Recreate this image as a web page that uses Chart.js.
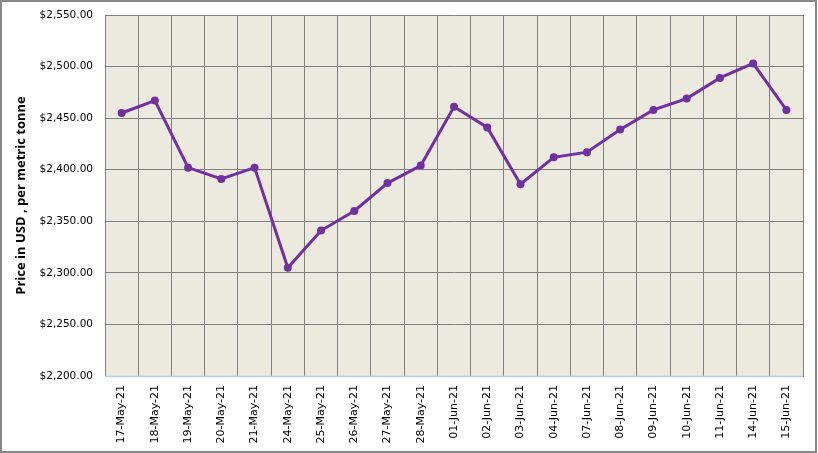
<!DOCTYPE html>
<html>
<head>
<meta charset="utf-8">
<script src="https://cdn.jsdelivr.net/npm/chart.js@4"></script>
<style>
  html, body { margin: 0; padding: 0; background: #fff; }
  #wrap { width: 818px; height: 453px; position: relative; }
</style>
</head>
<body>
<div id="wrap"><canvas id="priceChart" width="818" height="453"></canvas></div>
<script>
// --- Data ---
const dates = [
    '17-May-21', '18-May-21', '19-May-21', '20-May-21', '21-May-21', '24-May-21',
    '25-May-21', '26-May-21', '27-May-21', '28-May-21', '01-Jun-21', '02-Jun-21',
    '03-Jun-21', '04-Jun-21', '07-Jun-21', '08-Jun-21', '09-Jun-21', '10-Jun-21',
    '11-Jun-21', '14-Jun-21', '15-Jun-21'
];
const prices = [
    2455, 2467, 2402, 2391, 2402, 2305,
    2341, 2360, 2387, 2404, 2461, 2441,
    2386, 2412, 2417, 2439, 2458, 2469,
    2489, 2503, 2458
];
const yTicks = [2200, 2250, 2300, 2350, 2400, 2450, 2500, 2550];

// --- Plot background + outer frame ---
const frame = {
    id: 'frame',
    beforeDraw(chart) {
        const { ctx, chartArea: a } = chart;
        ctx.save();
        ctx.fillStyle = '#fff';
        ctx.fillRect(0, 0, chart.width, chart.height);
        ctx.fillStyle = '#ECEADF';
        ctx.fillRect(a.left, a.top, a.right - a.left, a.bottom - a.top);
        ctx.strokeStyle = '#888';
        ctx.lineWidth = 2;
        ctx.strokeRect(1, 1, 815, 451);
        ctx.restore();
    },
    afterDatasetsDraw(chart) {
        // light blue category axis line along the bottom
        const { ctx, chartArea: a } = chart;
        ctx.save();
        ctx.strokeStyle = '#B9CDE5';
        ctx.lineWidth = 1.5;
        ctx.beginPath();
        ctx.moveTo(a.left, a.bottom + 0.5);
        ctx.lineTo(a.right, a.bottom + 0.5);
        ctx.stroke();
        ctx.restore();
    }
};

const tickFont = { family: 'DejaVu Sans', size: 10.5 };

new Chart(document.getElementById('priceChart'), {
    type: 'line',
    data: {
        labels: dates,
        datasets: [{
            data: prices,
            borderColor: '#7030A0',
            backgroundColor: '#7030A0',
            borderWidth: 3,
            pointRadius: 4,
            pointBackgroundColor: '#7030A0',
            pointBorderWidth: 0,
            tension: 0
        }]
    },
    options: {
        responsive: false,
        animation: false,
        layout: { padding: { left: 0, right: 15, top: 15, bottom: 0 } },
        plugins: {
            legend: { display: false },
            tooltip: { enabled: false }
        },
        scales: {
            x: {
                offset: true,
                grid: { offset: true, color: '#808080', lineWidth: 1, drawTicks: false },
                border: { color: '#808080' },
                ticks: {
                    font: { family: 'DejaVu Sans', size: 11 },
                    color: '#000',
                    minRotation: 90,
                    maxRotation: 90,
                    padding: 9,
                    autoSkip: false
                },
                afterFit(scale) { scale.height = 77; }
            },
            y: {
                min: 2200,
                max: 2550,
                afterBuildTicks(scale) { scale.ticks = yTicks.map(v => ({ value: v })); },
                grid: { color: '#808080', lineWidth: 1, drawTicks: false },
                border: { color: '#808080' },
                ticks: {
                    font: tickFont,
                    color: '#000',
                    padding: 12,
                    callback: v => '$' + v.toLocaleString('en-US', { minimumFractionDigits: 2, maximumFractionDigits: 2 })
                },
                title: {
                    display: true,
                    text: 'Price in USD , per metric tonne',
                    color: '#000',
                    font: { family: 'Open Sans', size: 13, weight: 'bold' },
                    padding: { top: 13, bottom: 0 }
                },
                afterFit(scale) {
                    scale.width = 105;
                    scale.paddingTop = 0;
                    scale.paddingBottom = 0;
                }
            }
        }
    },
    plugins: [frame]
});
</script>
</body>
</html>
